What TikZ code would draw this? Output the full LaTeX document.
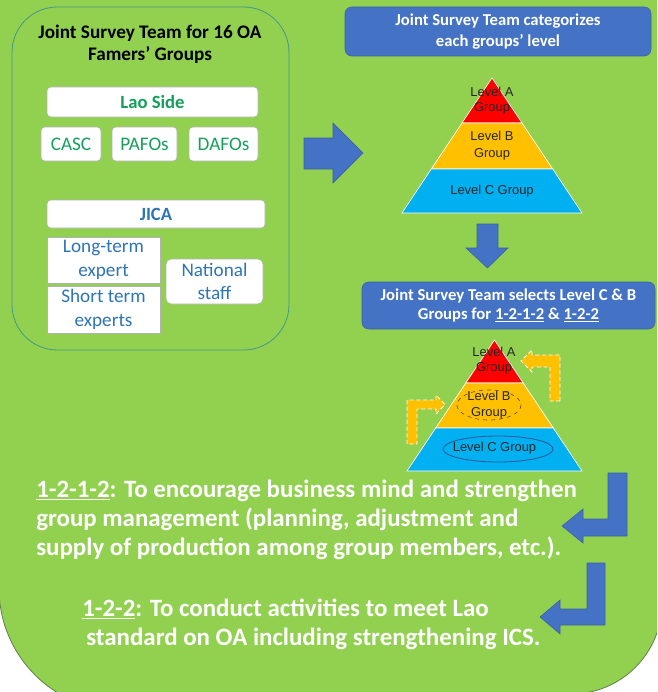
\documentclass[tikz,border=0pt]{standalone}
\usepackage{fontspec}
\setmainfont{Carlito}
\newfontfamily\pyrfont{Liberation Sans}
\usetikzlibrary{positioning}
\definecolor{bggreen}{RGB}{146,208,80}
\definecolor{edgegreen}{RGB}{96,130,70}
\definecolor{teamteal}{RGB}{70,150,140}
\definecolor{laogreen}{RGB}{20,160,90}
\definecolor{jicablue}{RGB}{46,117,182}
\definecolor{boxblue}{RGB}{68,114,196}
\definecolor{lvlred}{RGB}{255,0,0}
\definecolor{lvlorange}{RGB}{255,192,0}
\definecolor{lvlcyan}{RGB}{0,176,240}
\definecolor{ringblue}{RGB}{47,85,151}
\definecolor{ringbrown}{RGB}{110,85,20}

\begin{document}
\begin{tikzpicture}[x=0.75pt, y=-0.75pt,
  whitebox/.style={inner sep=0pt, fill=white, draw=black!30, line width=0.4pt, rounded corners=3pt},
  laotext/.style={text=laogreen, font=\fontsize{14.4}{16}\selectfont},
  jicatext/.style={text=jicablue, font=\fontsize{14.4}{18}\selectfont, align=center},
  bluebox/.style={inner sep=0pt, fill=boxblue, draw=boxblue!85!black, rounded corners=5pt, text=white, align=center},
  tierlbl/.style={font=\pyrfont\fontsize{9.7}{11.5}\selectfont, text=black!85, align=center},
  blockarrow/.style={fill=boxblue, draw=boxblue!85!black, line width=0.4pt},
  turnarrow/.style={fill=lvlorange, draw=white, densely dashed, line width=0.6pt},
  tierline/.style={draw=white, line width=0.5pt},
  acttext/.style={anchor=base west, align=left, inner sep=0pt, text=white, font=\fontsize{18.7}{21.75}\selectfont\bfseries}]

\useasboundingbox (0,0) rectangle (657,692);
\fill[white] (0,0) rectangle (657,692);
\clip (0,0) rectangle (657,692);
\filldraw[fill=bggreen, draw=edgegreen, line width=0.6pt] (-1,-5) -- (-1,588) arc[start angle=180, end angle=90, radius=123]
  -- (571,694) arc[start angle=90, end angle=0, radius=91] -- (662,-5) -- cycle;

% survey team members
\node[inner sep=0pt, draw=teamteal, line width=0.6pt, rounded corners=34pt, minimum width=207.75pt, minimum height=257.25pt] (team) at (150.5,178.5) {};
\node[font=\fontsize{14.4}{16.5}\selectfont\bfseries, align=center] (teamtitle) at (150,44) {Joint Survey Team for 16 OA\\Famers’ Groups};
\node[whitebox, minimum width=158.25pt, minimum height=22.5pt, laotext, font=\fontsize{14}{16}\selectfont\bfseries] (lao) at (152.5,102) {Lao Side};
\node[whitebox, minimum width=45pt, minimum height=25.5pt, laotext] (casc) at (71,144) {CASC};
\node[whitebox, minimum width=48.75pt, minimum height=25.5pt, laotext] (pafo) at (144.5,144) {PAFOs};
\node[whitebox, minimum width=51.75pt, minimum height=25.5pt, laotext] (dafo) at (223.5,144) {DAFOs};
\node[whitebox, minimum width=163.5pt, minimum height=21pt, jicatext, font=\fontsize{14}{16}\selectfont\bfseries] (jica) at (156,214) {JICA};
\node[whitebox, sharp corners, minimum width=84.75pt, minimum height=34.5pt, jicatext] (longterm) at (103.5,260) {Long-term\\expert};
\node[whitebox, sharp corners, minimum width=84.75pt, minimum height=35.25pt, jicatext] (shortterm) at (103.5,309.5) {Short term\\experts};
\node[whitebox, rounded corners=4pt, minimum width=72.75pt, minimum height=33.75pt, jicatext, font=\fontsize{14.4}{17}\selectfont] (natstaff) at (214.5,281.5) {National\\staff};

\filldraw[blockarrow] (304,138) -- (333,138) -- (333,123) -- (363,153) -- (333,183) -- (333,169) -- (304,169) -- cycle;

% categorize
\node[bluebox, minimum width=229.5pt, minimum height=36.75pt, font=\fontsize{12.5}{15.5}\selectfont\bfseries] (categorize) at (498,31.5) {Joint Survey Team categorizes\\each groups’ level};
\filldraw[fill=lvlred, tierline] (492,78) -- (522,123) -- (462,123) -- cycle;
\filldraw[fill=lvlorange, tierline] (462,123) -- (522,123) -- (552.7,169) -- (431.3,169) -- cycle;
\filldraw[fill=lvlcyan, tierline] (431.3,169) -- (552.7,169) -- (582,213) -- (402,213) -- cycle;
\node[tierlbl] (lvla1) at (492,100.5) {Level A\\Group};
\node[tierlbl, font=\pyrfont\fontsize{9.7}{12.7}\selectfont] (lvlb1) at (492,145.5) {Level B\\Group};
\node[tierlbl] (lvlc1) at (492,191) {Level C Group};

\filldraw[blockarrow] (477,224) -- (498,224) -- (498,248) -- (508,248) -- (487.5,268) -- (466,248) -- (477,248) -- cycle;

% select
\node[bluebox, minimum width=219.75pt, minimum height=35.25pt, font=\fontsize{12.5}{14.5}\selectfont\bfseries] (selects) at (508.5,305.5) {Joint Survey Team selects Level C \& B\\Groups for \underline{1-2-1-2} \& \underline{1-2-2}};
\filldraw[fill=lvlred, tierline] (494.5,340) -- (523.2,383) -- (465.8,383) -- cycle;
\filldraw[fill=lvlorange, tierline] (465.8,383) -- (523.2,383) -- (553.3,428) -- (435.7,428) -- cycle;
\filldraw[fill=lvlcyan, tierline] (435.7,428) -- (553.3,428) -- (582,471) -- (407,471) -- cycle;
\node[tierlbl] (lvla2) at (494,360.5) {Level A\\Group};
\node[tierlbl] (lvlb2) at (489,405) {Level B\\Group};
\node[tierlbl] (lvlc2) at (494.5,448) {Level C Group};
\draw[ringbrown, dashed, line width=0.5pt] (lvlb2) ellipse [x radius=32, y radius=15];
\draw[ringblue, line width=0.6pt] (498,449) ellipse [x radius=55, y radius=13];
\filldraw[turnarrow] (407,444) -- (407,400) -- (436,400) -- (436,395) -- (445,404.5) -- (436,414) -- (436,409) -- (417,409) -- (417,444) -- cycle;
\filldraw[turnarrow] (560,401) -- (560,355) -- (532,355) -- (532,350) -- (521,361) -- (532,372) -- (532,367) -- (550,367) -- (550,401) -- cycle;

% activities
\node[acttext] (act1) at (36,555)
  {\underline{1-2-1-2}: To encourage business mind and strengthen\\group management (planning, adjustment and\\supply of production among group members, etc.).};
\filldraw[blockarrow] (608,473) -- (627,473) -- (627,536) -- (583,536) -- (583,543) -- (562,526) -- (583,509) -- (583,519) -- (608,519) -- cycle;
\node[acttext] (act2) at (82,645)
  {\underline{1-2-2}: To conduct activities to meet Lao\\\hspace*{3pt}standard on OA including strengthening ICS.};
\filldraw[blockarrow] (587,563) -- (605,563) -- (605,625) -- (560,625) -- (560,634) -- (540,617) -- (560,600) -- (560,609) -- (587,609) -- cycle;
\end{tikzpicture}
\end{document}
